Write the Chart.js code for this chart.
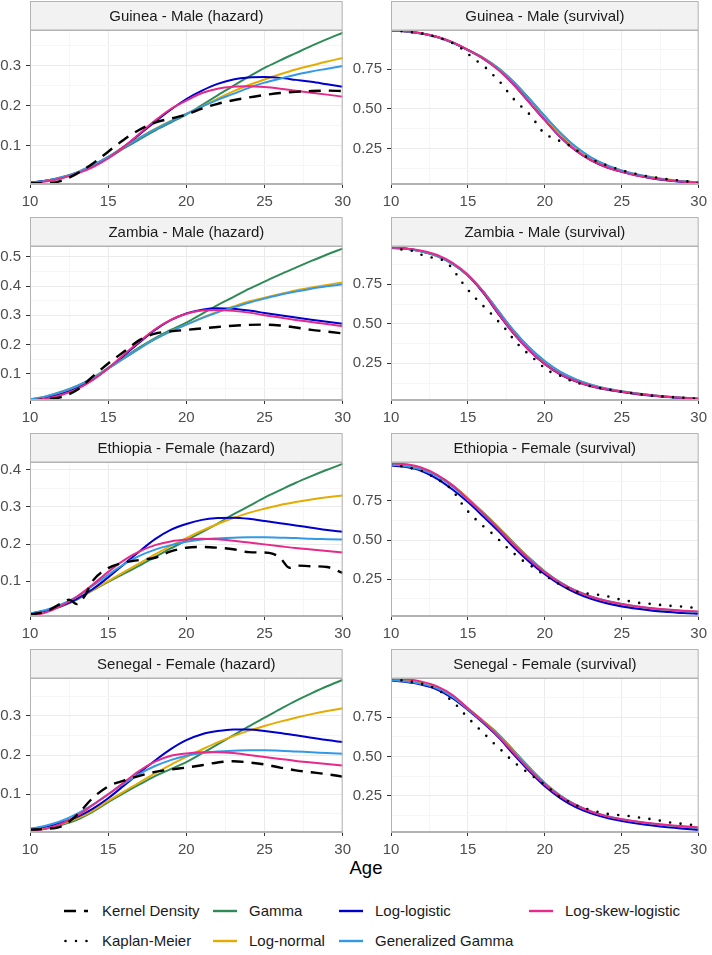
<!DOCTYPE html>
<html>
<head>
<meta charset="utf-8">
<script src="https://cdn.jsdelivr.net/npm/chart.js@4.4.1/dist/chart.umd.min.js"></script>
<style>
  body { margin: 0; background: #fff; font-family: "Liberation Sans", Arial, sans-serif; }
  #wrap { position: relative; width: 712px; height: 955px; overflow: hidden; }
  #wrap canvas { position: absolute; }
  #age { position: absolute; left: 316px; top: 857px; width: 100px; text-align: center; font-size: 18.5px; line-height: 22px; color: #000; }
  .leg { position: absolute; font-size: 15px; line-height: 18px; color: #1a1a1a; white-space: nowrap; }
  .key { position: absolute; }
</style>
</head>
<body>
<div id="wrap">
  <div id="age">Age</div>
</div>
<script>
// ages used for the fitted curves
const ages = [10,11,12,13,14,15,16,17,18,19,20,21,22,23,24,25,26,27,28,29,30];

// ---- Guinea - Male (hazard)
const guineaHazGamma       = [0.007,0.012,0.020,0.032,0.050,0.070,0.093,0.116,0.138,0.158,0.178,0.202,0.226,0.250,0.273,0.295,0.314,0.332,0.350,0.367,0.383];
const guineaHazLognormal   = [0.007,0.012,0.021,0.033,0.051,0.072,0.097,0.120,0.142,0.162,0.180,0.198,0.218,0.236,0.252,0.266,0.279,0.291,0.301,0.311,0.320];
const guineaHazLoglogistic = [0.008,0.012,0.020,0.032,0.048,0.070,0.097,0.128,0.160,0.190,0.217,0.238,0.255,0.266,0.271,0.272,0.270,0.265,0.260,0.254,0.248];
const guineaHazGenGamma    = [0.007,0.012,0.021,0.033,0.051,0.072,0.096,0.119,0.141,0.161,0.180,0.198,0.215,0.230,0.245,0.258,0.268,0.278,0.286,0.293,0.300];
const guineaHazLogskew     = [0.006,0.010,0.018,0.030,0.046,0.068,0.097,0.130,0.163,0.192,0.213,0.232,0.243,0.248,0.249,0.247,0.243,0.238,0.233,0.228,0.223];
const guineaKernel         = [0.006,0.006,0.012,0.030,0.055,0.085,0.115,0.140,0.158,0.168,0.178,0.193,0.205,0.214,0.221,0.227,0.232,0.235,0.237,0.238,0.237];

// ---- Zambia - Male (hazard)
const zambiaHazGamma       = [0.012,0.020,0.035,0.055,0.085,0.120,0.155,0.190,0.222,0.250,0.275,0.305,0.335,0.362,0.390,0.415,0.440,0.463,0.486,0.508,0.528];
const zambiaHazLognormal   = [0.012,0.022,0.038,0.058,0.085,0.117,0.152,0.186,0.218,0.245,0.268,0.291,0.312,0.330,0.347,0.360,0.373,0.385,0.395,0.404,0.412];
const zambiaHazLoglogistic = [0.010,0.017,0.030,0.050,0.080,0.118,0.162,0.207,0.250,0.283,0.306,0.319,0.324,0.322,0.316,0.308,0.300,0.292,0.285,0.278,0.271];
const zambiaHazGenGamma    = [0.012,0.022,0.038,0.058,0.085,0.117,0.152,0.186,0.218,0.245,0.268,0.290,0.310,0.327,0.343,0.357,0.370,0.381,0.391,0.399,0.406];
const zambiaHazLogskew     = [0.008,0.014,0.027,0.047,0.078,0.118,0.165,0.210,0.252,0.284,0.305,0.316,0.318,0.315,0.309,0.300,0.292,0.284,0.277,0.270,0.262];
const zambiaKernel         = [0.008,0.012,0.020,0.044,0.090,0.135,0.175,0.215,0.237,0.245,0.250,0.255,0.260,0.264,0.267,0.268,0.265,0.258,0.250,0.244,0.238];

// ---- Ethiopia - Female (hazard)
const ethHazGamma       = [0.012,0.020,0.032,0.050,0.075,0.098,0.120,0.142,0.165,0.188,0.210,0.232,0.255,0.280,0.302,0.325,0.345,0.365,0.383,0.400,0.416];
const ethHazLognormal   = [0.012,0.020,0.033,0.052,0.076,0.100,0.124,0.148,0.172,0.195,0.216,0.236,0.254,0.270,0.284,0.295,0.305,0.313,0.320,0.326,0.331];
const ethHazLoglogistic = [0.013,0.020,0.033,0.052,0.078,0.110,0.145,0.180,0.213,0.238,0.254,0.265,0.270,0.271,0.268,0.262,0.256,0.250,0.244,0.238,0.233];
const ethHazGenGamma    = [0.013,0.022,0.037,0.058,0.087,0.117,0.145,0.168,0.185,0.197,0.206,0.212,0.215,0.217,0.218,0.218,0.217,0.216,0.214,0.213,0.212];
const ethHazLogskew     = [0.006,0.015,0.033,0.058,0.090,0.125,0.156,0.180,0.197,0.207,0.212,0.214,0.213,0.209,0.204,0.199,0.194,0.189,0.185,0.181,0.177];
const ethKernelAges     = [10,11,12,12.5,13,13.5,14,15,16,17,18,19,20,21,22,23,24,25,25.5,26,26.6,27,28,29,30];
const ethKernel         = [0.010,0.018,0.040,0.050,0.038,0.060,0.100,0.135,0.150,0.157,0.163,0.180,0.190,0.192,0.190,0.186,0.178,0.177,0.174,0.163,0.136,0.142,0.140,0.138,0.122];

// ---- Senegal - Female (hazard)
const senHazGamma       = [0.008,0.013,0.022,0.035,0.055,0.080,0.103,0.125,0.146,0.164,0.182,0.204,0.227,0.250,0.273,0.295,0.317,0.338,0.357,0.375,0.391];
const senHazLognormal   = [0.008,0.014,0.024,0.038,0.058,0.083,0.107,0.130,0.153,0.175,0.195,0.214,0.232,0.248,0.262,0.274,0.285,0.295,0.304,0.312,0.319];
const senHazLoglogistic = [0.012,0.018,0.028,0.042,0.063,0.090,0.122,0.155,0.186,0.215,0.238,0.253,0.261,0.265,0.265,0.261,0.256,0.250,0.244,0.238,0.233];
const senHazGenGamma    = [0.012,0.020,0.032,0.050,0.073,0.100,0.127,0.152,0.172,0.187,0.198,0.205,0.209,0.211,0.212,0.212,0.211,0.209,0.207,0.205,0.203];
const senHazLogskew     = [0.006,0.012,0.025,0.045,0.072,0.100,0.130,0.160,0.183,0.198,0.204,0.207,0.207,0.205,0.200,0.195,0.190,0.185,0.181,0.177,0.173];
const senKernel         = [0.010,0.012,0.018,0.047,0.090,0.120,0.135,0.147,0.157,0.163,0.168,0.174,0.181,0.184,0.181,0.176,0.168,0.161,0.156,0.151,0.145];

// ---- Guinea - Male (survival)
const guineaSurvGamma       = [0.990,0.985,0.972,0.950,0.916,0.870,0.820,0.755,0.668,0.565,0.455,0.350,0.262,0.195,0.147,0.113,0.088,0.070,0.056,0.046,0.039];
const guineaSurvLognormal   = [0.990,0.985,0.972,0.950,0.916,0.870,0.818,0.752,0.664,0.560,0.450,0.345,0.258,0.193,0.147,0.115,0.091,0.073,0.059,0.049,0.041];
const guineaSurvLoglogistic = [0.990,0.985,0.972,0.950,0.915,0.868,0.815,0.745,0.650,0.540,0.430,0.325,0.240,0.178,0.135,0.108,0.084,0.066,0.053,0.043,0.036];
const guineaSurvGenGamma    = [0.990,0.985,0.972,0.950,0.915,0.869,0.818,0.752,0.665,0.562,0.455,0.352,0.265,0.198,0.150,0.116,0.090,0.072,0.058,0.048,0.040];
const guineaSurvLogskew     = [0.990,0.986,0.974,0.952,0.918,0.870,0.815,0.743,0.650,0.540,0.430,0.327,0.243,0.180,0.137,0.107,0.084,0.067,0.054,0.045,0.038];
const guineaKMAges = [10,11,12,13,13.5,14,14.5,14.96,15.49,16.03,16.52,16.99,17.41,17.84,18.27,18.76,19.23,19.59,20.02,20.62,21.2,21.79,22.5,23.5,25,26.5,28,30];
const guineaKM     = [0.990,0.985,0.972,0.950,0.932,0.912,0.885,0.848,0.806,0.771,0.723,0.681,0.629,0.577,0.531,0.494,0.442,0.390,0.337,0.317,0.289,0.264,0.210,0.165,0.115,0.082,0.060,0.040];

// ---- Zambia - Male (survival)
const zambiaSurvGamma       = [0.980,0.974,0.957,0.928,0.878,0.805,0.705,0.578,0.452,0.345,0.260,0.193,0.146,0.112,0.088,0.071,0.057,0.046,0.037,0.030,0.025];
const zambiaSurvLognormal   = [0.980,0.974,0.957,0.928,0.878,0.805,0.703,0.575,0.450,0.345,0.261,0.195,0.148,0.114,0.090,0.073,0.059,0.048,0.039,0.032,0.027];
const zambiaSurvLoglogistic = [0.980,0.975,0.958,0.930,0.880,0.805,0.695,0.560,0.435,0.330,0.245,0.180,0.136,0.105,0.084,0.068,0.055,0.045,0.037,0.030,0.025];
const zambiaSurvGenGamma    = [0.980,0.974,0.957,0.928,0.878,0.805,0.704,0.578,0.455,0.350,0.265,0.198,0.150,0.115,0.091,0.073,0.059,0.048,0.039,0.032,0.027];
const zambiaSurvLogskew     = [0.982,0.977,0.962,0.935,0.885,0.810,0.700,0.563,0.437,0.331,0.246,0.182,0.138,0.107,0.086,0.070,0.057,0.047,0.039,0.032,0.027];
const zambiaKMAges = [10,10.7,11.3,11.97,12.6,13.5,14,14.57,15.0,15.45,15.92,16.41,16.88,17.31,17.74,18.16,18.63,19.12,19.66,20.09,20.73,21.26,21.8,22.5,23.5,25,27,30];
const zambiaKM     = [0.979,0.970,0.964,0.937,0.920,0.900,0.850,0.768,0.715,0.667,0.620,0.574,0.525,0.483,0.430,0.378,0.335,0.293,0.251,0.205,0.184,0.160,0.135,0.115,0.095,0.070,0.045,0.025];

// ---- Ethiopia - Female (survival)
const ethSurvGamma       = [0.985,0.975,0.955,0.912,0.848,0.765,0.675,0.580,0.480,0.385,0.300,0.230,0.175,0.135,0.106,0.085,0.070,0.058,0.049,0.042,0.037];
const ethSurvLognormal   = [0.985,0.975,0.955,0.912,0.848,0.765,0.673,0.577,0.476,0.382,0.299,0.230,0.177,0.138,0.110,0.089,0.074,0.062,0.053,0.046,0.040];
const ethSurvLoglogistic = [0.975,0.965,0.940,0.890,0.822,0.742,0.650,0.555,0.452,0.360,0.282,0.215,0.163,0.125,0.097,0.077,0.062,0.050,0.042,0.035,0.030];
const ethSurvGenGamma    = [0.980,0.970,0.948,0.905,0.840,0.757,0.667,0.572,0.472,0.380,0.298,0.231,0.179,0.141,0.113,0.092,0.076,0.064,0.055,0.047,0.041];
const ethSurvLogskew     = [0.990,0.982,0.960,0.915,0.848,0.760,0.668,0.570,0.468,0.375,0.294,0.227,0.176,0.139,0.112,0.092,0.077,0.066,0.057,0.050,0.044];
const ethKMAges = [10,11,12,13,13.7,14.1,14.49,14.89,15.34,15.81,16.35,16.84,17.3,17.8,18.31,18.8,19.4,19.98,21,22,23,23.7,24.36,25,25.64,26.28,26.9,27.56,28.25,28.95,29.6,30];
const ethKM     = [0.980,0.965,0.940,0.890,0.845,0.804,0.747,0.694,0.648,0.603,0.561,0.519,0.473,0.430,0.388,0.352,0.318,0.276,0.215,0.172,0.155,0.150,0.135,0.118,0.108,0.097,0.093,0.086,0.080,0.076,0.070,0.068];

// ---- Senegal - Female (survival)
const senSurvGamma       = [0.990,0.982,0.968,0.940,0.885,0.805,0.725,0.640,0.535,0.430,0.332,0.252,0.190,0.146,0.116,0.094,0.078,0.065,0.055,0.047,0.040];
const senSurvLognormal   = [0.990,0.982,0.968,0.940,0.885,0.805,0.723,0.635,0.530,0.425,0.329,0.251,0.191,0.148,0.119,0.098,0.082,0.069,0.059,0.051,0.044];
const senSurvLoglogistic = [0.982,0.972,0.955,0.925,0.870,0.795,0.712,0.620,0.510,0.405,0.310,0.235,0.178,0.138,0.110,0.090,0.074,0.061,0.050,0.041,0.033];
const senSurvGenGamma    = [0.985,0.976,0.960,0.932,0.878,0.800,0.718,0.630,0.525,0.422,0.328,0.251,0.193,0.151,0.122,0.101,0.085,0.072,0.061,0.053,0.046];
const senSurvLogskew     = [0.995,0.990,0.975,0.945,0.890,0.805,0.720,0.625,0.520,0.415,0.322,0.247,0.190,0.150,0.121,0.101,0.086,0.074,0.064,0.056,0.050];
const senKMAges = [10,11,12,13,13.7,14.2,14.64,15.1,15.56,16.03,16.5,16.99,17.48,17.95,18.48,19.02,19.55,20.09,21,22,23,24,25,25.64,26.28,27.03,27.67,28.3,28.95,29.6,30];
const senKM     = [0.990,0.980,0.962,0.930,0.875,0.831,0.783,0.736,0.690,0.648,0.599,0.557,0.510,0.466,0.426,0.388,0.350,0.314,0.240,0.190,0.158,0.136,0.126,0.120,0.110,0.100,0.089,0.078,0.072,0.065,0.062];

// tick positions
const xMajor = [10,15,20,25,30];
const xMinor = [12.5,17.5,22.5,27.5];
const hazMajor = [0.1,0.2,0.3,0.4,0.5];
const hazMinor = [0.05,0.15,0.25,0.35,0.45,0.55];
const survMajor = [0.25,0.5,0.75];
const survMinor = [0.125,0.375,0.625,0.875];

const colors = {
  gamma: '#2E8B57', lognormal: '#E6AB02', loglogistic: '#0000CD',
  gengamma: '#3399E6', logskew: '#E7298A'
};

const FONT = '"Liberation Sans", Arial, sans-serif';
Chart.defaults.font.family = FONT;

const wrap = document.getElementById('wrap');

function isMultiple(v, step) {
  const r = v / step;
  return Math.abs(r - Math.round(r)) < 1e-6;
}

// grey facet strip above each panel + panel border
const stripPlugin = {
  id: 'strip',
  beforeDraw(chart, args, opts) {
    const { ctx, chartArea: a } = chart;
    ctx.save();
    ctx.fillStyle = '#f2f2f2';
    ctx.fillRect(a.left, 0.5, a.right - a.left, a.top - 0.5);
    ctx.strokeStyle = '#b3b3b3';
    ctx.lineWidth = 1;
    ctx.strokeRect(a.left + 0.5, 0.5, a.right - a.left - 1, a.top - 0.5);
    ctx.fillStyle = '#1a1a1a';
    ctx.font = '15px ' + FONT;
    ctx.textAlign = 'center';
    ctx.textBaseline = 'middle';
    ctx.fillText(opts.text, (a.left + a.right) / 2, a.top / 2 + 1);
    ctx.restore();
  },
  afterDatasetsDraw(chart) {
    const { ctx, chartArea: a } = chart;
    ctx.save();
    ctx.strokeStyle = '#b3b3b3';
    ctx.lineWidth = 1;
    ctx.strokeRect(a.left + 0.5, a.top + 0.5, a.right - a.left - 1, a.bottom - a.top - 1);
    ctx.restore();
  }
};

function pts(xs, ys) {
  return xs.map((x, i) => ({ x: x, y: ys[i] }));
}

function curve(label, ys, color) {
  return { label, data: pts(ages, ys), borderColor: color, borderWidth: 2,
           pointRadius: 0, fill: false, cubicInterpolationMode: 'monotone' };
}

function makePanel(p) {
  const left = p.col === 0;
  const canvas = document.createElement('canvas');
  canvas.width = left ? 356 : 372;
  canvas.height = 215;
  canvas.style.left = (left ? 0 : 340) + 'px';
  canvas.style.top = p.top + 'px';
  wrap.appendChild(canvas);

  const datasets = [];
  if (p.kind === 'hazard') {
    datasets.push({ label: 'Kernel Density', data: pts(p.kdAges || ages, p.kd), borderColor: '#000',
      borderWidth: 2.4, borderDash: [12, 8], pointRadius: 0, fill: false, cubicInterpolationMode: 'monotone' });
  } else {
    datasets.push({ label: 'Kaplan-Meier', data: pts(p.kmAges, p.km), borderColor: '#000',
      borderWidth: 2.6, borderDash: [0, 10.5], borderCapStyle: 'round', pointRadius: 0, fill: false, tension: 0 });
  }
  datasets.push(curve('Log-skew-logistic', p.logskew, colors.logskew));
  datasets.push(curve('Generalized Gamma', p.gengamma, colors.gengamma));
  datasets.push(curve('Log-logistic', p.loglogistic, colors.loglogistic));
  datasets.push(curve('Log-normal', p.lognormal, colors.lognormal));
  datasets.push(curve('Gamma', p.gamma, colors.gamma));

  const yMajorList = p.kind === 'hazard' ? hazMajor : survMajor;
  const yMinorList = p.kind === 'hazard' ? hazMinor : survMinor;
  const yStep = p.kind === 'hazard' ? 0.1 : 0.25;
  const yTicks = yMajorList.concat(yMinorList).filter(v => v >= p.yMin && v <= p.yMax).sort((a, b) => a - b);
  const xTicks = xMajor.concat(xMinor).sort((a, b) => a - b);

  new Chart(canvas, {
    type: 'line',
    data: { datasets },
    options: {
      responsive: false,
      animation: false,
      devicePixelRatio: 1,
      layout: { padding: { top: 29, right: left ? 13 : 9, left: 0, bottom: 0 } },
      plugins: { legend: { display: false }, tooltip: { enabled: false }, strip: { text: p.title } },
      scales: {
        x: {
          type: 'linear', min: 10, max: 30,
          afterBuildTicks: ax => { ax.ticks = xTicks.map(v => ({ value: v })); },
          afterFit: ax => { ax.height = 32; },
          ticks: {
            autoSkip: false, maxRotation: 0, padding: 5, color: '#4d4d4d', font: { size: 15 },
            callback: v => isMultiple(v, 5) ? String(v) : ''
          },
          grid: {
            color: c => c.tick && isMultiple(c.tick.value, 5) ? '#ebebeb' : '#f6f6f6',
            tickColor: c => c.tick && isMultiple(c.tick.value, 5) ? '#333333' : 'rgba(0,0,0,0)',
            tickLength: 4
          },
          border: { color: '#b3b3b3' }
        },
        y: {
          type: 'linear', min: p.yMin, max: p.yMax,
          afterBuildTicks: ax => { ax.ticks = yTicks.map(v => ({ value: v })); },
          afterFit: ax => { ax.width = left ? 30 : 51; },
          ticks: {
            autoSkip: false, padding: 5, color: '#4d4d4d', font: { size: 15 },
            callback: v => isMultiple(v, yStep) ? v.toFixed(p.kind === 'hazard' ? 1 : 2) : ''
          },
          grid: {
            color: c => c.tick && isMultiple(c.tick.value, yStep) ? '#ebebeb' : '#f6f6f6',
            tickColor: c => c.tick && isMultiple(c.tick.value, yStep) ? '#333333' : 'rgba(0,0,0,0)',
            tickLength: 4
          },
          border: { color: '#b3b3b3' }
        }
      }
    },
    plugins: [stripPlugin]
  });
}

const rowTops = [1, 217, 433, 649];

const panels = [
  { col: 0, top: rowTops[0], kind: 'hazard', title: 'Guinea - Male (hazard)', yMin: 0.004, yMax: 0.39,
    gamma: guineaHazGamma, lognormal: guineaHazLognormal, loglogistic: guineaHazLoglogistic,
    gengamma: guineaHazGenGamma, logskew: guineaHazLogskew, kd: guineaKernel },
  { col: 1, top: rowTops[0], kind: 'survival', title: 'Guinea - Male (survival)', yMin: 0.031, yMax: 0.994,
    gamma: guineaSurvGamma, lognormal: guineaSurvLognormal, loglogistic: guineaSurvLoglogistic,
    gengamma: guineaSurvGenGamma, logskew: guineaSurvLogskew, kmAges: guineaKMAges, km: guineaKM },
  { col: 0, top: rowTops[1], kind: 'hazard', title: 'Zambia - Male (hazard)', yMin: 0.01, yMax: 0.537,
    gamma: zambiaHazGamma, lognormal: zambiaHazLognormal, loglogistic: zambiaHazLoglogistic,
    gengamma: zambiaHazGenGamma, logskew: zambiaHazLogskew, kd: zambiaKernel },
  { col: 1, top: rowTops[1], kind: 'survival', title: 'Zambia - Male (survival)', yMin: 0.018, yMax: 0.992,
    gamma: zambiaSurvGamma, lognormal: zambiaSurvLognormal, loglogistic: zambiaSurvLoglogistic,
    gengamma: zambiaSurvGenGamma, logskew: zambiaSurvLogskew, kmAges: zambiaKMAges, km: zambiaKM },
  { col: 0, top: rowTops[2], kind: 'hazard', title: 'Ethiopia - Female (hazard)', yMin: 0.006, yMax: 0.421,
    gamma: ethHazGamma, lognormal: ethHazLognormal, loglogistic: ethHazLoglogistic,
    gengamma: ethHazGenGamma, logskew: ethHazLogskew, kdAges: ethKernelAges, kd: ethKernel },
  { col: 1, top: rowTops[2], kind: 'survival', title: 'Ethiopia - Female (survival)', yMin: 0.016, yMax: 0.997,
    gamma: ethSurvGamma, lognormal: ethSurvLognormal, loglogistic: ethSurvLoglogistic,
    gengamma: ethSurvGenGamma, logskew: ethSurvLogskew, kmAges: ethKMAges, km: ethKM },
  { col: 0, top: rowTops[3], kind: 'hazard', title: 'Senegal - Female (hazard)', yMin: 0.004, yMax: 0.396,
    gamma: senHazGamma, lognormal: senHazLognormal, loglogistic: senHazLoglogistic,
    gengamma: senHazGenGamma, logskew: senHazLogskew, kd: senKernel },
  { col: 1, top: rowTops[3], kind: 'survival', title: 'Senegal - Female (survival)', yMin: 0.02, yMax: 0.998,
    gamma: senSurvGamma, lognormal: senSurvLognormal, loglogistic: senSurvLoglogistic,
    gengamma: senSurvGenGamma, logskew: senSurvLogskew, kmAges: senKMAges, km: senKM }
];

panels.forEach(makePanel);

// legend at the bottom (two rows, four columns)
const legendItems = [
  { label: 'Kernel Density', color: '#000', dash: '12 8', cap: 'butt', row: 0, col: 0 },
  { label: 'Gamma', color: colors.gamma, row: 0, col: 1 },
  { label: 'Log-logistic', color: colors.loglogistic, row: 0, col: 2 },
  { label: 'Log-skew-logistic', color: colors.logskew, row: 0, col: 3 },
  { label: 'Kaplan-Meier', color: '#000', dash: '0 10.5', cap: 'round', row: 1, col: 0 },
  { label: 'Log-normal', color: colors.lognormal, row: 1, col: 1 },
  { label: 'Generalized Gamma', color: colors.gengamma, row: 1, col: 2 }
];
const legendKeyX = [64, 213, 339, 529];
const legendTextX = [102, 249, 375, 565];
const legendRowY = [911, 941];

legendItems.forEach(it => {
  const svgNS = 'http://www.w3.org/2000/svg';
  const svg = document.createElementNS(svgNS, 'svg');
  svg.setAttribute('width', '26');
  svg.setAttribute('height', '10');
  svg.setAttribute('class', 'key');
  svg.style.left = legendKeyX[it.col] + 'px';
  svg.style.top = (legendRowY[it.row] - 5) + 'px';
  const line = document.createElementNS(svgNS, 'line');
  line.setAttribute('x1', it.cap === 'round' ? '1.5' : '0');
  line.setAttribute('x2', '24');
  line.setAttribute('y1', '5');
  line.setAttribute('y2', '5');
  line.setAttribute('stroke', it.color);
  line.setAttribute('stroke-width', it.cap === 'round' ? '2.6' : '2.4');
  if (it.dash) line.setAttribute('stroke-dasharray', it.dash);
  if (it.cap) line.setAttribute('stroke-linecap', it.cap);
  svg.appendChild(line);
  wrap.appendChild(svg);

  const t = document.createElement('div');
  t.className = 'leg';
  t.textContent = it.label;
  t.style.left = legendTextX[it.col] + 'px';
  t.style.top = (legendRowY[it.row] - 9) + 'px';
  wrap.appendChild(t);
});
</script>
</body>
</html>
